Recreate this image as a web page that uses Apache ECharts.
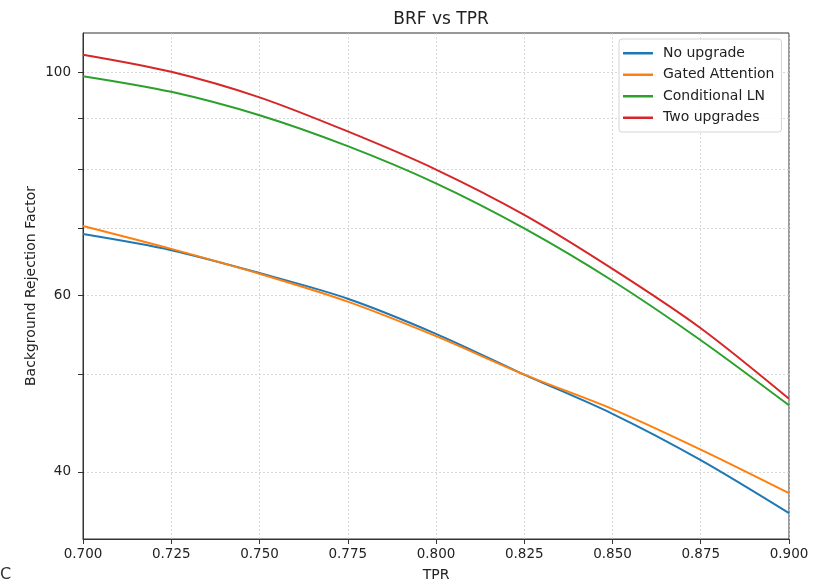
<!DOCTYPE html>
<html>
<head>
<meta charset="utf-8">
<script src="https://cdn.jsdelivr.net/npm/echarts@6/dist/echarts.min.js"></script>
<style>
  html, body { margin: 0; padding: 0; background: #fff; overflow: hidden; }
  #chart { width: 815px; height: 587px; }
</style>
</head>
<body>
<div id="chart"></div>
<script>
// data
var tpr = [0.700, 0.725, 0.750, 0.775, 0.800, 0.825, 0.850, 0.875, 0.900];
var noUpgrade = [69.0, 66.5, 63.1, 59.5, 54.9, 50.0, 45.7, 41.1, 36.4];
var gatedAttention = [70.3, 66.7, 63.0, 59.1, 54.6, 50.0, 46.2, 42.1, 38.1];
var conditionalLN = [99.1, 95.6, 90.6, 84.4, 77.5, 69.9, 62.0, 54.1, 46.6];
var twoUpgrades = [104.1, 100.1, 94.4, 87.3, 80.0, 72.1, 63.7, 55.6, 47.3];
var seriesNames = ['No upgrade', 'Gated Attention', 'Conditional LN', 'Two upgrades'];
var yTicks = [40, 50, 60, 70, 80, 90, 100];
var yLabels = [40, 60, 100];

var colors = ['#1f77b4', '#ff7f0e', '#2ca02c', '#d62728'];
var font = 'DejaVu Sans';

function pairs(ys) {
    return tpr.map(function (x, i) { return [x, ys[i]]; });
}

var chart = echarts.init(document.getElementById('chart'));

var lines = [noUpgrade, gatedAttention, conditionalLN, twoUpgrades].map(function (ys, i) {
    return {
        name: seriesNames[i],
        type: 'line',
        data: pairs(ys),
        smooth: 0.3,
        symbol: 'none',
        lineStyle: { width: 2, color: colors[i] },
        itemStyle: { color: colors[i] },
        z: 3 + i
    };
});

var option = {
    animation: false,
    color: colors,
    textStyle: { fontFamily: font },
    title: {
        text: 'BRF vs TPR',
        left: 436,
        textAlign: 'center',
        top: 6,
        textStyle: { fontFamily: font, fontSize: 17, fontWeight: 'normal', color: '#222' }
    },
    grid: {
        left: 83, top: 33, width: 706, height: 514,
        show: true, borderColor: '#333', borderWidth: 1,
        containLabel: false
    },
    legend: {
        orient: 'vertical',
        left: 619, top: 39,
        data: seriesNames,
        icon: 'rect',
        itemWidth: 30, itemHeight: 2.5,
        itemGap: 5,
        padding: [6, 7, 6, 4],
        borderColor: '#d5d5d5', borderWidth: 1, borderRadius: 3,
        backgroundColor: 'rgba(255,255,255,0.85)',
        textStyle: { fontFamily: font, fontSize: 14, color: '#222', padding: [0, 0, 0, 5], lineHeight: 16.5 }
    },
    xAxis: {
        type: 'value',
        min: 0.7, max: 0.9, interval: 0.025,
        name: 'TPR', nameLocation: 'middle', nameGap: 29,
        nameTextStyle: { fontFamily: font, fontSize: 14, color: '#222' },
        axisLine: { lineStyle: { color: '#333' } },
        axisTick: { length: 5, lineStyle: { color: '#333' } },
        axisLabel: {
            fontFamily: font, fontSize: 13.5, color: '#222', margin: 8,
            formatter: function (v) { return v.toFixed(3); }
        },
        splitLine: { show: true, lineStyle: { color: '#cfcfcf', type: [2, 2], width: 0.8 } }
    },
    yAxis: {
        type: 'log', logBase: 10,
        min: 34.3, max: 109.4,
        name: 'Background Rejection Factor', nameLocation: 'middle', nameGap: 45,
        nameMoveOverlap: false,
        nameTextStyle: { fontFamily: font, fontSize: 14, color: '#222' },
        axisLine: { show: true, lineStyle: { color: '#333' } },
        axisTick: { show: true, length: 5, customValues: yTicks, lineStyle: { color: '#333' } },
        axisLabel: {
            customValues: yLabels,
            fontFamily: font, fontSize: 13.5, color: '#222', margin: 12
        },
        splitLine: { show: true, lineStyle: { color: '#cfcfcf', type: [2, 2], width: 0.8 } }
    },
    graphic: [{
        type: 'text', left: 0, top: 567,
        style: { text: 'C', fontFamily: font, fontSize: 16, fill: '#333' }
    }],
    series: lines
};

chart.setOption(option);
</script>
</body>
</html>
